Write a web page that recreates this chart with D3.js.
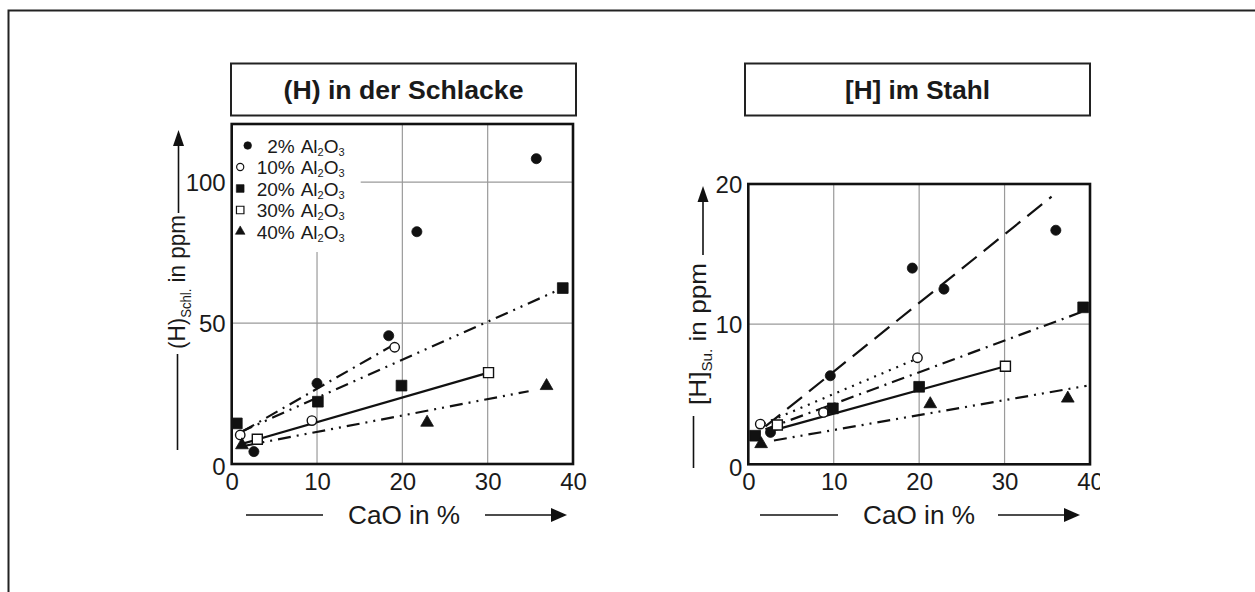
<!DOCTYPE html>
<html>
<head>
<meta charset="utf-8">
<script src="https://cdn.jsdelivr.net/npm/d3@7"></script>
<style>
  html, body { margin: 0; padding: 0; background: #fff; }
  svg { display: block; }
  text { font-family: "Liberation Sans", Arial, sans-serif; fill: #1a1a1a; }
</style>
</head>
<body>
<script>
// ---------- data ----------
const xTicks = [0, 10, 20, 30, 40];
const slagYTicks = [0, 50, 100];
const steelYTicks = [0, 10, 20];
const slagYMax = 120.6;
const steelYMax = 20;

const legendPcts = ["2%", "10%", "20%", "30%", "40%"];
const seriesKeys = ["a2", "a10", "a20", "a30", "a40"];

// (H) in der Schlacke  [CaO %, ppm]
const slag2  = [[2.6, 4.4], [10, 28.6], [18.4, 45.5], [21.7, 82.4], [35.7, 108.3]];
const slag10 = [[1.0, 10.3], [9.4, 15.4], [19.1, 41.4]];
const slag20 = [[0.6, 14.4], [10.1, 22.1], [19.9, 27.8], [38.8, 62.4]];
const slag30 = [[3.0, 8.8], [30.1, 32.4]];
const slag40 = [[1.2, 6.7], [22.9, 14.7], [36.9, 27.7]];

// fitted lines (H) in der Schlacke
const slagFit10 = [[1.3, 11.6], [18.7, 41.8]];
const slagFit20 = [[1.0, 11.3], [38.8, 62.4]];
const slagFit30 = [[1.4, 7.3], [30.1, 32.4]];
const slagFit40 = [[1.4, 6.4], [34.8, 25.8]];

// [H] im Stahl  [CaO %, ppm]
const steel2  = [[2.6, 2.28], [9.6, 6.32], [19.2, 14.0], [22.9, 12.5], [36.0, 16.7]];
const steel10 = [[1.4, 2.87], [8.8, 3.7], [19.8, 7.6]];
const steel20 = [[0.8, 2.04], [9.9, 3.99], [20.0, 5.53], [39.2, 11.2]];
const steel30 = [[3.4, 2.8], [30.1, 7.0]];
const steel40 = [[1.5, 1.45], [21.3, 4.3], [37.4, 4.7]];

// fitted lines [H] im Stahl
const steelFit2  = [[2.0, 2.7], [35.5, 19.1]];
const steelFit10 = [[1.8, 2.9], [19.6, 7.5]];
const steelFit20 = [[2.0, 2.5], [39.6, 11.0]];
const steelFit30 = [[2.8, 2.4], [30.1, 7.0]];
const steelFit40 = [[3.0, 1.7], [39.6, 5.6]];

// ---------- styles ----------
const symStyle = {
  a2:  { type: d3.symbolCircle,   fill: "#111", size: 80,  lsize: 46 },
  a10: { type: d3.symbolCircle,   fill: "#fff", size: 70,  lsize: 40 },
  a20: { type: d3.symbolSquare,   fill: "#111", size: 115, lsize: 60 },
  a30: { type: d3.symbolSquare,   fill: "#fff", size: 100, lsize: 56 },
  a40: { type: d3.symbolTriangle, fill: "#111", size: 70,  lsize: 40 }
};
const dashStyle = {
  solid: null,
  dashDot: "13,6,2,6",
  dashDotDot: "13,6,2,6,2,6",
  longDash: "19,9",
  dotted: "2,6"
};

const W = 1255, H = 592;
const svg = d3.select("body").append("svg").attr("width", W).attr("height", H);

// outer frame (open to the right and bottom)
svg.append("rect").attr("x", 8.5).attr("y", 10.5).attr("width", 1300).attr("height", 700)
  .attr("fill", "none").attr("stroke", "#222").attr("stroke-width", 2);

const defs = svg.append("defs");
defs.append("clipPath").attr("id", "rightClip")
  .append("rect").attr("x", 600).attr("y", 0).attr("width", 500).attr("height", H);

function arrowHead(g, tipX, tipY, dir, len, half) {
  let pts;
  if (dir === "up") pts = [[tipX, tipY], [tipX - half, tipY + len], [tipX + half, tipY + len]];
  else pts = [[tipX, tipY], [tipX - len, tipY - half], [tipX - len, tipY + half]];
  g.append("path").attr("d", d3.line()(pts) + "Z").attr("fill", "#111");
}

function panel(cfg) {
  const g = svg.append("g");
  if (cfg.clip) g.attr("clip-path", "url(#" + cfg.clip + ")");
  const x = d3.scaleLinear().domain([0, 40]).range([cfg.left, cfg.right]);
  const y = d3.scaleLinear().domain([0, cfg.yMax]).range([cfg.bottom, cfg.top]);

  // title box
  g.append("rect").attr("x", cfg.titleLeft).attr("y", 63.5).attr("width", cfg.titleW).attr("height", 52)
    .attr("fill", "#fff").attr("stroke", "#222").attr("stroke-width", 2);
  g.append("text").attr("x", cfg.titleLeft + cfg.titleW / 2).attr("y", 98.5)
    .attr("text-anchor", "middle").attr("font-weight", "bold").attr("font-size", 25.5)
    .attr("textLength", cfg.titleLen).attr("lengthAdjust", "spacingAndGlyphs")
    .text(cfg.title);

  // grid
  g.append("g").selectAll("line").data(xTicks.filter(d => d > 0 && d < 40)).join("line")
    .attr("x1", d => x(d)).attr("x2", d => x(d)).attr("y1", cfg.top).attr("y2", cfg.bottom)
    .attr("stroke", "#9a9a9a").attr("stroke-width", 1.2);
  g.append("g").selectAll("line").data(cfg.yTicks.filter(d => d > 0 && d < cfg.yMax - 1)).join("line")
    .attr("x1", cfg.left).attr("x2", cfg.right).attr("y1", d => y(d)).attr("y2", d => y(d))
    .attr("stroke", "#9a9a9a").attr("stroke-width", 1.2);

  // legend backdrop
  if (cfg.legend) {
    g.append("rect").attr("x", cfg.left + 1).attr("y", cfg.top + 1).attr("width", 128).attr("height", 127)
      .attr("fill", "#fff");
  }

  // axes (labels only)
  const ax = g.append("g").attr("transform", `translate(0,${cfg.bottom})`)
    .call(d3.axisBottom(x).tickValues(xTicks).tickSize(0).tickPadding(9).tickFormat(d3.format("d")));
  ax.select(".domain").remove();
  ax.selectAll("text").attr("font-size", 24).attr("font-family", "Liberation Sans, Arial, sans-serif").attr("fill", "#1a1a1a");
  const ay = g.append("g").attr("transform", `translate(${cfg.left},0)`)
    .call(d3.axisLeft(y).tickValues(cfg.yTicks).tickSize(0).tickPadding(6).tickFormat(d3.format("d")));
  ay.select(".domain").remove();
  ay.selectAll("text").attr("font-size", 24).attr("font-family", "Liberation Sans, Arial, sans-serif").attr("fill", "#1a1a1a")
    .attr("dy", d => d === 0 ? "0.45em" : "0.34em");

  // fit lines
  const line = d3.line().x(d => x(d[0])).y(d => y(d[1]));
  cfg.fits.forEach(f => {
    g.append("path").attr("d", line(f.pts)).attr("fill", "none").attr("stroke", "#111")
      .attr("stroke-width", 2.2).attr("stroke-dasharray", dashStyle[f.style]);
  });

  // points
  cfg.series.forEach(s => {
    const st = symStyle[s.key];
    g.append("g").selectAll("path").data(s.pts).join("path")
      .attr("transform", d => `translate(${x(d[0])},${y(d[1])})`)
      .attr("d", d3.symbol().type(st.type).size(st.size))
      .attr("fill", st.fill).attr("stroke", "#111").attr("stroke-width", st.fill === "#fff" ? 1.4 : 0.8);
  });

  // frame
  g.append("rect").attr("x", cfg.left).attr("y", cfg.top).attr("width", cfg.right - cfg.left).attr("height", cfg.bottom - cfg.top)
    .attr("fill", "none").attr("stroke", "#111").attr("stroke-width", 2.6);

  // legend
  if (cfg.legend) {
    const rowY = i => cfg.top + 21.5 + i * 21.5;
    seriesKeys.forEach((k, i) => {
      const st = symStyle[k];
      g.append("path").attr("transform", `translate(${cfg.left + (i === 0 ? 16 : 8.5)},${rowY(i)})`)
        .attr("d", d3.symbol().type(st.type).size(st.lsize))
        .attr("fill", st.fill).attr("stroke", "#111").attr("stroke-width", st.fill === "#fff" ? 1.2 : 0.6);
      g.append("text").attr("x", cfg.left + 63).attr("y", rowY(i) + 7).attr("text-anchor", "end")
        .attr("font-size", 19).text(legendPcts[i]);
      const t = g.append("text").attr("x", cfg.left + 69).attr("y", rowY(i) + 7).attr("font-size", 19);
      t.append("tspan").text("Al");
      t.append("tspan").attr("font-size", 11).attr("dy", 3).text("2");
      t.append("tspan").attr("dy", -3).text("O");
      t.append("tspan").attr("font-size", 11).attr("dy", 3).text("3");
    });
  }

  // y axis label with arrow
  const yl = cfg.yLab;
  g.append("line").attr("x1", yl.lowX).attr("x2", yl.lowX).attr("y1", yl.lowY1).attr("y2", yl.lowY2)
    .attr("stroke", "#111").attr("stroke-width", 1.6);
  g.append("line").attr("x1", yl.upX).attr("x2", yl.upX).attr("y1", yl.upY1).attr("y2", yl.upTip + 12)
    .attr("stroke", "#111").attr("stroke-width", 1.6);
  arrowHead(g, yl.upX, yl.upTip, "up", 16, 5.5);
  const yt = g.append("text").attr("transform", `translate(${yl.textX},${yl.textY}) rotate(-90)`)
    .attr("text-anchor", "middle").attr("font-size", 24)
    .attr("textLength", yl.len).attr("lengthAdjust", "spacingAndGlyphs");
  yt.append("tspan").text(yl.main);
  yt.append("tspan").attr("font-size", 14).attr("dy", 6).text(yl.sub);
  yt.append("tspan").attr("dy", -6).text(" in ppm");

  // x axis label with arrow
  const xl = cfg.xLab;
  g.append("line").attr("x1", xl.l1).attr("x2", xl.l2).attr("y1", 515).attr("y2", 515)
    .attr("stroke", "#111").attr("stroke-width", 1.6);
  g.append("line").attr("x1", xl.r1).attr("x2", xl.tip - 10).attr("y1", 515).attr("y2", 515)
    .attr("stroke", "#111").attr("stroke-width", 1.6);
  arrowHead(g, xl.tip, 515, "right", 16, 7);
  g.append("text").attr("x", xl.cx).attr("y", 523.5).attr("text-anchor", "middle").attr("font-size", 25)
    .attr("textLength", 112).attr("lengthAdjust", "spacingAndGlyphs").text("CaO in %");
}

panel({
  title: "(H) in der Schlacke", titleLeft: 231, titleW: 345, titleLen: 240,
  left: 231.7, right: 573, top: 124, bottom: 464, yMax: slagYMax, yTicks: slagYTicks,
  legend: true,
  series: [
    { key: "a2", pts: slag2 }, { key: "a10", pts: slag10 }, { key: "a20", pts: slag20 },
    { key: "a30", pts: slag30 }, { key: "a40", pts: slag40 }
  ],
  fits: [
    { pts: slagFit10, style: "dashDot" }, { pts: slagFit20, style: "dashDotDot" },
    { pts: slagFit30, style: "solid" }, { pts: slagFit40, style: "dashDotDot" }
  ],
  yLab: { main: "(H)", sub: "Schl.", textX: 185, textY: 282, len: 134,
          lowX: 177.5, lowY1: 450, lowY2: 354, upX: 178.5, upY1: 213, upTip: 130 },
  xLab: { l1: 246, l2: 323, r1: 485, tip: 567, cx: 404 }
});

panel({
  title: "[H] im Stahl", titleLeft: 745, titleW: 345, titleLen: 145, clip: "rightClip",
  left: 748.3, right: 1090, top: 184, bottom: 464.3, yMax: steelYMax, yTicks: steelYTicks,
  legend: false,
  series: [
    { key: "a2", pts: steel2 }, { key: "a10", pts: steel10 }, { key: "a20", pts: steel20 },
    { key: "a30", pts: steel30 }, { key: "a40", pts: steel40 }
  ],
  fits: [
    { pts: steelFit2, style: "longDash" }, { pts: steelFit10, style: "dotted" },
    { pts: steelFit20, style: "dashDot" }, { pts: steelFit30, style: "solid" },
    { pts: steelFit40, style: "dashDotDot" }
  ],
  yLab: { main: "[H]", sub: "Su.", textX: 706, textY: 334, len: 142,
          lowX: 693.5, lowY1: 468, lowY2: 416, upX: 703, upY1: 255, upTip: 186 },
  xLab: { l1: 760, l2: 838, r1: 998, tip: 1080, cx: 919 }
});
</script>
</body>
</html>
